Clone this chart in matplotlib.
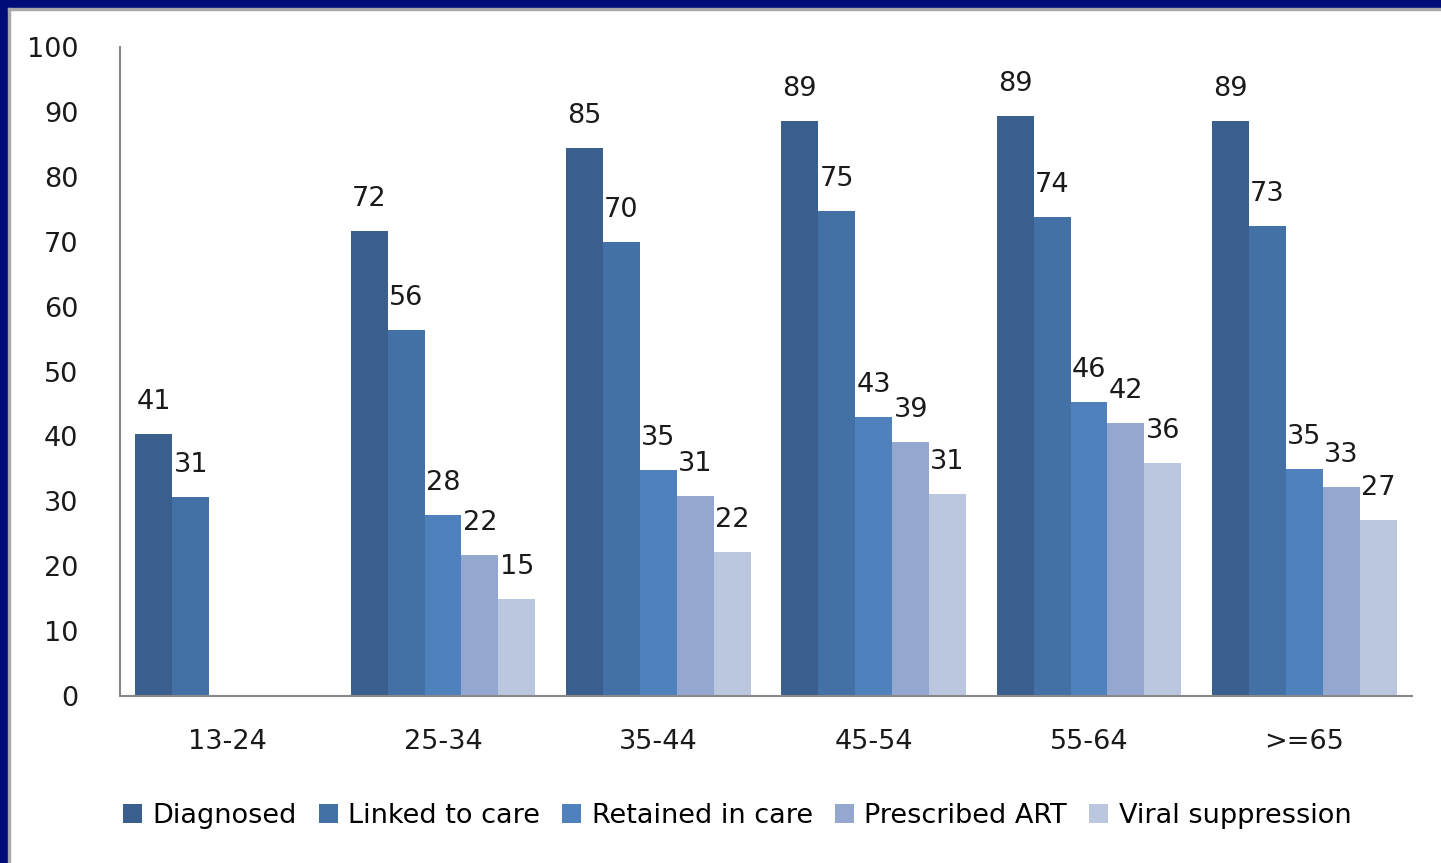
import matplotlib
matplotlib.use("Agg")
import matplotlib.pyplot as plt
import numpy as np
from matplotlib.patches import Rectangle

categories = ["13-24", "25-34", "35-44", "45-54", "55-64", ">=65"]
series_names = ["Diagnosed", "Linked to care", "Retained in care", "Prescribed ART", "Viral suppression"]
diagnosed = [40.3, 71.6, 84.4, 88.6, 89.4, 88.6]
linked = [30.6, 56.4, 70.0, 74.7, 73.8, 72.4]
retained = [None, 27.9, 34.8, 43.0, 45.3, 35.0]
prescribed = [None, 21.7, 30.8, 39.1, 42.1, 32.2]
viral = [None, 14.9, 22.2, 31.1, 35.9, 27.1]
labels_diag = [41, 72, 85, 89, 89, 89]
labels_link = [31, 56, 70, 75, 74, 73]
labels_ret = [None, 28, 35, 43, 46, 35]
labels_pres = [None, 22, 31, 39, 42, 33]
labels_vir = [None, 15, 22, 31, 36, 27]
yticks = [0, 10, 20, 30, 40, 50, 60, 70, 80, 90, 100]

colors = ["#3A5F8E", "#4371A6", "#4F81BD", "#94A8CF", "#BAC7DF"]

plt.rcParams['font.family'] = ['DejaVu Sans']
FS = 19.5
TXT = "#1a1a1a"

fig = plt.figure(figsize=(14.41, 8.63), dpi=100)
fig.patch.set_facecolor("white")
# border
fig.patches.append(Rectangle((0, 1 - 8/863), 1, 8/863, transform=fig.transFigure, color="#000C78", zorder=0))
fig.patches.append(Rectangle((0, 0), 8/1441, 1, transform=fig.transFigure, color="#000C78", zorder=0))
fig.patches.append(Rectangle((8/1441, 1 - 10/863), 1, 2/863, transform=fig.transFigure, color="#A8A8A8", zorder=0))
fig.patches.append(Rectangle((8/1441, 0), 2/1441, 1 - 8/863, transform=fig.transFigure, color="#A8A8A8", zorder=0))

ax = fig.add_axes([120/1441, 1 - 696/863, (1412 - 120)/1441, (696 - 47)/863])
ax.set_xlim(-0.5, 5.5)
ax.set_ylim(0, 100)

all_vals = [diagnosed, linked, retained, prescribed, viral]
all_labels = [labels_diag, labels_link, labels_ret, labels_pres, labels_vir]
bw = 37 / 215.5
x = np.arange(len(categories))
for i, (vals, labs) in enumerate(zip(all_vals, all_labels)):
    offs = (i - 2) * bw
    for j, (v, lab) in enumerate(zip(vals, labs)):
        if v is None:
            continue
        ax.bar(x[j] + offs, v, width=bw, color=colors[i], linewidth=0, label=series_names[i] if j == 1 else None)
        ax.annotate(str(lab), (x[j] + offs, v), xytext=(0, 18), textcoords="offset points",
                    ha="center", va="baseline", fontsize=FS, color=TXT)

ax.set_xticks(x)
ax.set_xticklabels(categories, fontsize=FS)
ax.set_yticks(yticks)
ax.set_yticklabels([str(t) for t in yticks], fontsize=FS)
ax.tick_params(axis="both", length=0, colors=TXT)
ax.tick_params(axis="y", pad=30)
ax.tick_params(axis="x", pad=24)
for s in ["top", "right"]:
    ax.spines[s].set_visible(False)
for s in ["left", "bottom"]:
    ax.spines[s].set_color("#888888")
    ax.spines[s].set_linewidth(1.5)

handles, labs = ax.get_legend_handles_labels()
fig.legend(handles, labs, loc="center", bbox_to_anchor=(737/1441, 1 - 816/863), ncol=5,
           frameon=False, fontsize=FS, handlelength=0.7, handleheight=0.7, handletextpad=0.4,
           columnspacing=0.8)

fig.savefig("out.png", dpi=100)
